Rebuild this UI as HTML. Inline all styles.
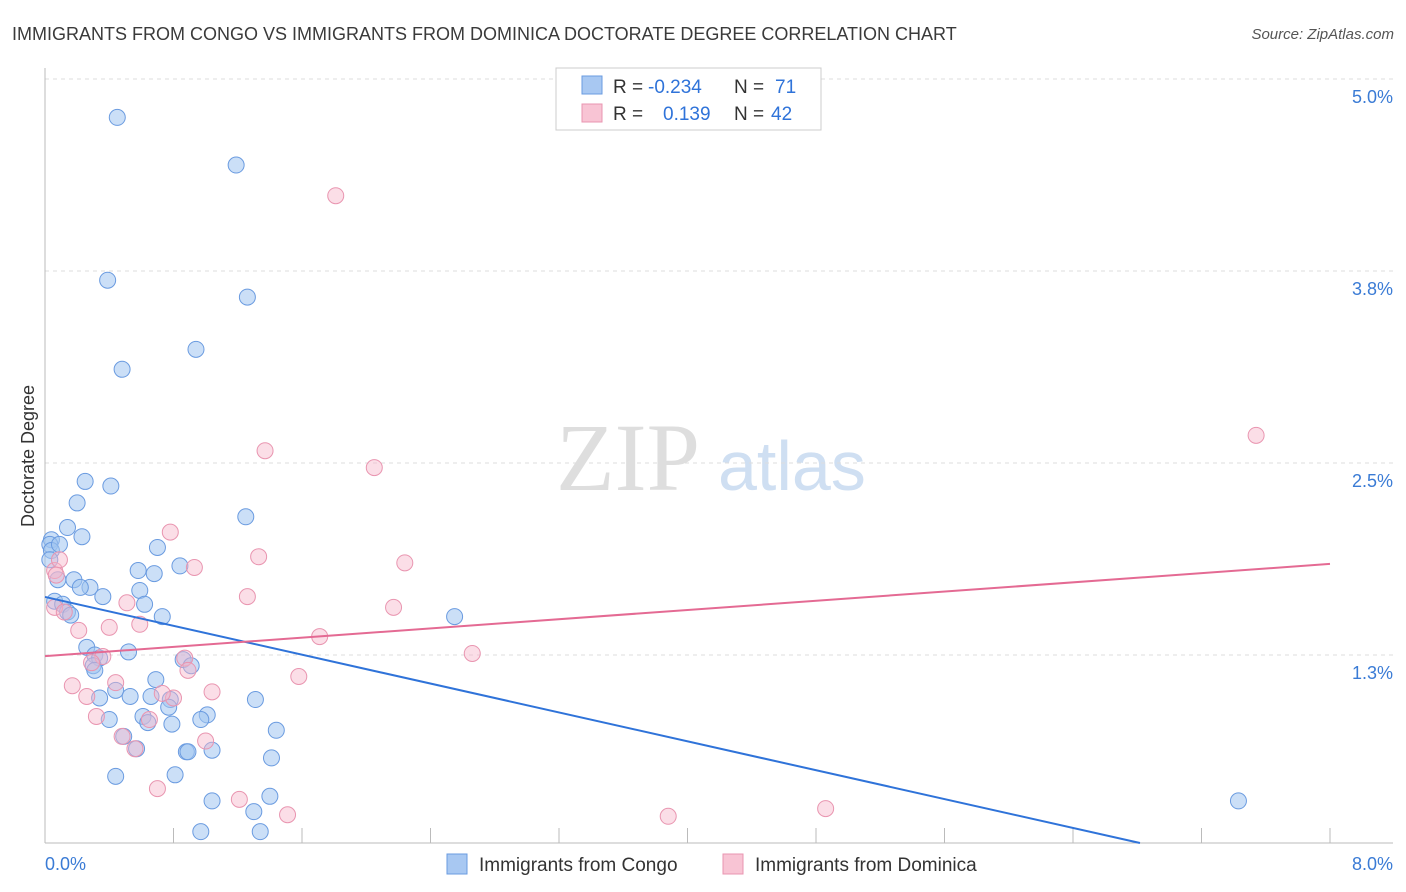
<!DOCTYPE html>
<html><head><meta charset="utf-8">
<style>
body{margin:0;background:#fff;font-family:"Liberation Sans",sans-serif;}
#wrap{position:relative;width:1406px;height:892px;overflow:hidden;}
</style></head>
<body>
<div id="wrap">
<svg id="svg" width="1406" height="892" xmlns="http://www.w3.org/2000/svg">
<text x="12" y="40" font-size="18" fill="#3a3a3a">IMMIGRANTS FROM CONGO VS IMMIGRANTS FROM DOMINICA DOCTORATE DEGREE CORRELATION CHART</text>
<text x="1394" y="39" font-size="15" fill="#555" font-style="italic" text-anchor="end">Source: ZipAtlas.com</text>
<text x="556" y="490" font-size="96" fill="#dedede" font-family="Liberation Serif,serif">ZIP</text>
<text x="718" y="490" font-size="70" fill="#cfdff2">atlas</text>
<text transform="translate(34,456) rotate(-90)" font-size="18" fill="#333" text-anchor="middle">Doctorate Degree</text>
<g id="grid"></g><g id="marks"></g><g id="lines"></g>
<g>
<rect x="556" y="68" width="265" height="62" fill="#fff" stroke="#ccc"/>
<rect x="582" y="76" width="20" height="18" fill="#a8c8f2" stroke="#6a9be0"/>
<rect x="582" y="104" width="20" height="18" fill="#f8c4d4" stroke="#e995b0"/>
<text x="613" y="93" font-size="19" fill="#333">R = </text><text x="648" y="93" font-size="19" fill="#2f73d9">-0.234</text>
<text x="734" y="93" font-size="19" fill="#333">N = </text><text x="775" y="93" font-size="19" fill="#2f73d9">71</text>
<text x="613" y="120" font-size="19" fill="#333">R = </text><text x="663" y="120" font-size="19" fill="#2f73d9">0.139</text>
<text x="734" y="120" font-size="19" fill="#333">N = </text><text x="771" y="120" font-size="19" fill="#2f73d9">42</text>
</g>
<g>
<rect x="447" y="854" width="20" height="20" fill="#a8c8f2" stroke="#6a9be0"/>
<text x="479" y="871" font-size="19" fill="#333">Immigrants from Congo</text>
<rect x="723" y="854" width="20" height="20" fill="#f8c4d4" stroke="#e995b0"/>
<text x="755" y="871" font-size="19" fill="#333">Immigrants from Dominica</text>
</g>
</svg>
</div>
<script>
const congoX=[0.45,1.19,0.39,1.26,0.94,0.48,0.25,0.41,0.20,1.25,0.14,0.23,0.04,0.03,0.04,0.70,0.84,0.58,0.68,0.08,0.18,0.28,0.59,0.22,0.36,0.06,0.11,0.62,0.14,0.16,0.73,2.55,0.26,0.31,0.52,0.34,0.86,0.91,0.30,0.31,0.69,0.44,0.34,0.53,0.66,0.78,0.77,1.31,0.61,1.01,0.97,0.40,0.64,0.79,1.44,0.49,0.57,0.88,0.89,1.04,1.41,0.44,0.81,1.04,1.40,1.30,7.43,0.97,1.34,0.03,0.09];
const congoY=[4.75,4.44,3.69,3.58,3.24,3.11,2.38,2.35,2.24,2.15,2.08,2.02,2.00,1.97,1.93,1.95,1.83,1.80,1.78,1.74,1.74,1.69,1.67,1.69,1.63,1.60,1.58,1.58,1.53,1.51,1.50,1.50,1.30,1.25,1.27,1.23,1.22,1.18,1.18,1.15,1.09,1.02,0.97,0.98,0.98,0.96,0.91,0.96,0.85,0.86,0.83,0.83,0.81,0.80,0.76,0.72,0.64,0.62,0.62,0.63,0.58,0.46,0.47,0.30,0.33,0.23,0.30,0.10,0.10,1.87,1.97];
const domX=[1.81,1.37,2.05,7.54,0.78,1.33,2.24,0.93,0.06,0.09,0.51,1.26,2.17,0.06,0.12,0.21,0.40,0.59,1.71,2.66,0.87,0.36,0.29,0.89,1.58,0.17,1.04,0.44,0.26,0.80,0.73,0.32,0.65,1.00,0.48,0.56,0.70,1.21,1.51,3.88,4.86,0.07];
const domY=[4.24,2.58,2.47,2.68,2.05,1.89,1.85,1.82,1.80,1.87,1.59,1.63,1.56,1.56,1.53,1.41,1.43,1.45,1.37,1.26,1.23,1.24,1.20,1.15,1.11,1.05,1.01,1.07,0.98,0.97,1.00,0.85,0.83,0.69,0.72,0.64,0.38,0.31,0.21,0.20,0.25,1.77];
const congoTrend=[1.628,-0.235];
const domTrend=[1.243,0.075];
const yTicks=[1.25,2.5,3.75,5.0];
const yTickLabels=["1.3%","2.5%","3.8%","5.0%"];
const xTicks=[0,0.8,1.6,2.4,3.2,4.0,4.8,5.6,6.4,7.2,8.0];

const NS="http://www.w3.org/2000/svg";
const X=v=>45+v/8*1285, Y=v=>847-v*153.6;
const yMinVis=(847-843)/153.6;
function mk(t,a,p){const e=document.createElementNS(NS,t);for(const k in a)e.setAttribute(k,a[k]);p.appendChild(e);return e;}
const grid=document.getElementById('grid'),marks=document.getElementById('marks'),lines=document.getElementById('lines');
yTicks.forEach((v,i)=>{
 const l=mk('line',{x1:45,x2:1393,y1:Y(v),y2:Y(v),stroke:'#ddd','stroke-dasharray':'4,4'},grid);
 
 
 const t=mk('text',{x:1393,y:Y(v)+24,'font-size':18,fill:'#3a7bd5','text-anchor':'end'},grid);t.textContent=yTickLabels[i];
 
 
});
const ax=mk('line',{x1:45,x2:1393,y1:843,y2:843,stroke:'#bbb'},grid);


const ay=mk('line',{x1:45,x2:45,y1:68,y2:843,stroke:'#bbb'},grid);


xTicks.forEach(v=>{const t=mk('line',{x1:X(v),x2:X(v),y1:828,y2:843,stroke:'#bbb'},grid);
 
 });
const xl0=mk('text',{x:45,y:870,'font-size':18,fill:'#3a7bd5'},grid);xl0.textContent=xTicks[0].toFixed(1)+'%';


const xl1=mk('text',{x:1393,y:870,'font-size':18,fill:'#3a7bd5','text-anchor':'end'},grid);xl1.textContent=xTicks[xTicks.length-1].toFixed(1)+'%';


congoX.forEach((v,i)=>{const c=mk('circle',{cx:X(v),cy:Y(congoY[i]),r:8,fill:'rgba(160,196,240,0.55)',stroke:'#6a9be0','stroke-width':1},marks);
 
 });
domX.forEach((v,i)=>{const c=mk('circle',{cx:X(v),cy:Y(domY[i]),r:8,fill:'rgba(246,182,202,0.45)',stroke:'#e995b0','stroke-width':1},marks);
 
 });
const bxEnd=Math.min(8,(yMinVis-congoTrend[0])/congoTrend[1]);
const bl=mk('line',{x1:X(0),y1:Y(congoTrend[0]),x2:X(bxEnd),y2:Y(congoTrend[0]+congoTrend[1]*bxEnd),stroke:'#2f73d9','stroke-width':2},lines);


const pl=mk('line',{x1:X(0),y1:Y(domTrend[0]),x2:X(8),y2:Y(domTrend[0]+domTrend[1]*8),stroke:'#e46a93','stroke-width':2},lines);


</script>
</body></html>
